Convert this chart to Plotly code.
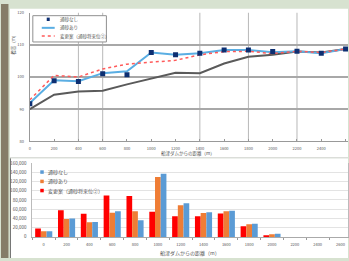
import plotly.graph_objects as go

# ---------------- data ----------------
distance = [0, 200, 400, 600, 800, 1000, 1200, 1400, 1600, 1800, 2000, 2200, 2400, 2600]

# top chart: elevation (m)
elev_no_sand = [91.7, 98.8, 98.6, 101.0, 100.7, 107.6, 106.9, 107.4, 108.4, 108.4, 107.9, 108.0, 107.4, 108.7]
elev_sand = [91.9, 99.0, 98.7, 101.2, 101.8, 107.6, 106.9, 107.4, 108.4, 108.4, 107.7, 108.0, 107.4, 108.7]
elev_plan = [92.9, 100.5, 100.0, 102.5, 104.0, 104.7, 105.2, 106.9, 107.9, 108.0, 107.3, 108.0, 107.6, 108.7]
elev_bed = [90.0, 94.5, 95.5, 95.7, 97.7, 99.5, 101.3, 101.2, 104.2, 106.3, 106.9, 107.9, 107.6, 108.7]
vgrid_top = [400, 600, 1400, 1800, 2200]

# bottom chart: volume
bar_categories = ["0", "200", "400", "600", "800", "1000", "1200", "1400", "1600",
                  "1800", "2000", "2200", "2400", "2600"]
vol_plan = [18000, 58000, 50000, 89700, 88400, 54700, 44800, 44800, 50500, 23100, 3400, 0, 0, 0]
vol_sand = [12000, 39000, 31500, 52600, 55400, 129700, 68600, 51800, 55400, 27400, 5500, 0, 0, 0]
vol_no_sand = [12000, 40000, 32000, 55400, 35800, 136800, 72800, 53300, 56800, 28700, 7000, 0, 0, 0]

names = ["通砂なし", "通砂あり", "変更案（通砂将来位②）"]
x_title = "船津ダムからの距離（m）"
y_title_top = "標高（m）"

# ---------------- layout helpers ----------------
W, H = 349, 261
def px(x):
    return x / W
def py(y):
    return 1 - y / H

FONT = "Noto Sans CJK JP"
TXT = "#555555"
C_NAVY = "#0d2f72"
C_LBLUE = "#5aaee3"
C_RED_DOT = "#ff5a5a"
C_GRAY = "#5a5a5a"
C_BAR_RED = "#ff0000"
C_BAR_ORANGE = "#ef7d35"
C_BAR_BLUE = "#5b9bd5"

fig = go.Figure()

# top chart traces
fig.add_trace(go.Scatter(x=distance, y=elev_bed, mode="lines",
                         line=dict(color=C_GRAY, width=2), showlegend=False,
                         xaxis="x", yaxis="y"))
fig.add_trace(go.Scatter(x=distance, y=elev_sand, mode="lines", name=names[1],
                         line=dict(color=C_LBLUE, width=2), showlegend=False,
                         xaxis="x", yaxis="y"))
fig.add_trace(go.Scatter(x=distance, y=elev_plan, mode="lines", name=names[2],
                         line=dict(color=C_RED_DOT, width=1.5, dash="dot"), showlegend=False,
                         xaxis="x", yaxis="y"))
fig.add_trace(go.Scatter(x=distance, y=elev_no_sand, mode="markers", name=names[0],
                         marker=dict(symbol="square", color=C_NAVY, size=5),
                         showlegend=False, xaxis="x", yaxis="y"))

# bottom chart traces
for vals, col, nm in [(vol_plan, C_BAR_RED, names[2]),
                      (vol_sand, C_BAR_ORANGE, names[1]),
                      (vol_no_sand, C_BAR_BLUE, names[0])]:
    fig.add_trace(go.Bar(x=bar_categories, y=vals, name=nm, marker=dict(color=col, line=dict(width=0)),
                         showlegend=False, xaxis="x2", yaxis="y2"))

shapes = []
# background panels
shapes.append(dict(type="rect", xref="paper", yref="paper", x0=0, x1=px(7.5), y0=0, y1=1,
                   fillcolor="#857d68", line=dict(width=0), layer="below"))
shapes.append(dict(type="rect", xref="paper", yref="paper", x0=px(9), x1=1, y0=py(157.5), y1=py(5),
                   fillcolor="white", line=dict(width=0), layer="below"))
shapes.append(dict(type="rect", xref="paper", yref="paper", x0=px(10), x1=1, y0=0, y1=py(158.5),
                   fillcolor="white", line=dict(width=0), layer="below"))
shapes.append(dict(type="line", xref="paper", yref="paper", x0=px(9.5), x1=px(9.5), y0=0, y1=py(158.5),
                   line=dict(color="#707070", width=1), layer="below"))
shapes.append(dict(type="line", xref="paper", yref="paper", x0=px(9), x1=1, y0=py(158), y1=py(158),
                   line=dict(color="#d8d8d8", width=1), layer="below"))
# top chart selective vertical grid lines
for gx in vgrid_top:
    shapes.append(dict(type="line", xref="x", yref="y domain", x0=gx, x1=gx, y0=0, y1=1,
                       line=dict(color="#b8b8b8", width=1), layer="below"))

# manual legend (top chart)
shapes.append(dict(type="rect", xref="paper", yref="paper", x0=px(32), x1=px(106), y0=py(39), y1=py(12),
                   line=dict(color="#909090", width=1), fillcolor="white"))
shapes.append(dict(type="rect", xref="paper", yref="paper", x0=px(46), x1=px(49), y0=py(17.5), y1=py(14),
                   line=dict(width=0), fillcolor=C_NAVY))
shapes.append(dict(type="line", xref="paper", yref="paper", x0=px(41), x1=px(54), y0=py(24.5), y1=py(24.5),
                   line=dict(color=C_LBLUE, width=2)))
shapes.append(dict(type="line", xref="paper", yref="paper", x0=px(41), x1=px(54), y0=py(33), y1=py(33),
                   line=dict(color=C_RED_DOT, width=1.5, dash="dot")))
# manual legend (bottom chart)
leg_cols = [C_BAR_BLUE, C_BAR_ORANGE, C_BAR_RED]
leg_y = [172.7, 182.3, 191.7]
for c, yy in zip(leg_cols, leg_y):
    shapes.append(dict(type="rect", xref="paper", yref="paper", x0=px(39.5), x1=px(43), y0=py(yy + 1.8),
                       y1=py(yy - 1.8), line=dict(width=0), fillcolor=c))

annotations = []
top_leg_y = [15.7, 24.5, 33]
for nm, yy in zip(names, top_leg_y):
    annotations.append(dict(text=nm, xref="paper", yref="paper", x=px(57), y=py(yy), xanchor="left",
                            yanchor="middle", showarrow=False, font=dict(size=4.5, color=TXT, family=FONT)))
for nm, yy in zip(names, leg_y):
    annotations.append(dict(text=nm, xref="paper", yref="paper", x=px(45), y=py(yy), xanchor="left",
                            yanchor="middle", showarrow=False, font=dict(size=5, color=TXT, family=FONT)))
# axis titles
annotations.append(dict(text=x_title, xref="paper", yref="paper", x=px(188), y=py(153.5), xanchor="center",
                        yanchor="middle", showarrow=False, font=dict(size=4.5, color=TXT, family=FONT)))
annotations.append(dict(text=x_title, xref="paper", yref="paper", x=px(190), y=py(256), xanchor="center",
                        yanchor="middle", showarrow=False, font=dict(size=5, color=TXT, family=FONT)))
annotations.append(dict(text=y_title_top, xref="paper", yref="paper", x=px(13), y=py(41), xanchor="center",
                        yanchor="middle", showarrow=False, textangle=-90,
                        font=dict(size=4.5, color=TXT, family=FONT)))

fig.update_layout(
    width=W, height=H,
    margin=dict(l=0, r=0, t=0, b=0),
    paper_bgcolor="#d7e2d0",
    plot_bgcolor="rgba(0,0,0,0)",
    font=dict(family=FONT, color=TXT, size=4),
    showlegend=False,
    hovermode=False,
    barmode="group", bargap=0.25, bargroupgap=0,
    shapes=shapes, annotations=annotations,
    xaxis=dict(domain=[px(29), 1], range=[0, 2620], tickvals=distance, ticks="inside", ticklen=2,
               tickcolor="#999", showgrid=False, zeroline=False, showline=True, linecolor="#999",
               linewidth=1, tickfont=dict(size=4, color=TXT), ticklabelstandoff=3, anchor="y"),
    yaxis=dict(domain=[py(141), py(9)], range=[80, 120], dtick=10, showgrid=True, gridcolor="#a8a8a8",
               gridwidth=1.5, zeroline=False, showline=True, linecolor="#999", linewidth=1,
               tickfont=dict(size=4, color=TXT), ticklabelstandoff=4, anchor="x"),
    xaxis2=dict(domain=[px(31.5), 1], type="category", range=[-0.5, 13.33], tickson="boundaries",
                ticks="outside", ticklen=2, tickcolor="#999", showgrid=False, showline=True,
                linecolor="#aaa", linewidth=1, tickfont=dict(size=4, color=TXT), anchor="y2",
                ticklabelstandoff=3),
    yaxis2=dict(domain=[py(239.3), py(163.5)], range=[0, 160000], dtick=20000, tickformat=",",
                showgrid=True, gridcolor="#e3e3e3", gridwidth=1, zeroline=False, showline=True,
                linecolor="#bbb", linewidth=1, mirror=True, tickfont=dict(size=4.5, color=TXT),
                ticklabelstandoff=4, anchor="x2"),
)

fig.write_html("out.html",
               config={"displayModeBar": False, "staticPlot": True},
               post_script="document.body.style.margin='0';document.body.style.padding='0';"
                           "document.body.style.overflow='hidden';")
